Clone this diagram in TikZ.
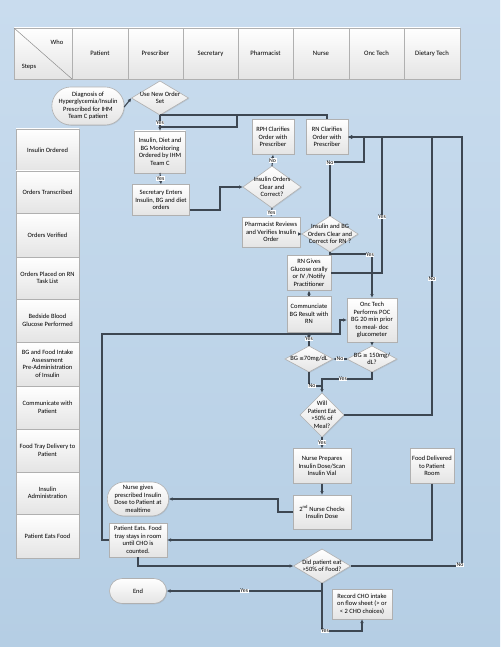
\documentclass[tikz,border=0pt]{standalone}
\usepackage{fontspec}
\setmainfont{Carlito}
\newfontfamily\symf{DejaVu Sans}
\usetikzlibrary{shapes.geometric,shapes.misc,arrows.meta,shadows,calc}
\definecolor{bgA}{HTML}{C9DCEE}
\definecolor{bgB}{HTML}{B5CEE4}
\definecolor{ln}{HTML}{3D4752}
\definecolor{bd}{HTML}{B0B0B0}
\definecolor{fl}{HTML}{E4E4E4}
\tikzset{
 txt/.style={font=\fontsize{6.5}{7.5}\selectfont, align=center},
 base/.style={draw=bd, line width=0.6pt, top color=white, bottom color=fl, txt, inner sep=0.5pt, outer sep=0pt,
   drop shadow={shadow xshift=0.8pt, shadow yshift=-0.8pt, opacity=0.22}},
 proc/.style={base, rectangle},
 dec/.style={base, diamond, inner sep=0pt},
 term/.style={base, rounded rectangle},
 stepbox/.style={base, rectangle, minimum width=63pt},
 hdr/.style={draw=bd, line width=0.6pt, top color=white, bottom color=fl, font=\fontsize{6.7}{7.5}\selectfont, inner sep=0pt, minimum height=51pt, outer sep=0pt},
 dtext/.style={txt, inner sep=0pt},
 conn/.style={draw=ln, line width=1.1pt},
 arr/.style={conn, -{Latex[length=4pt,width=3.6pt]}},
 lab/.style={fill=white, font=\fontsize{5.8}{6.2}\selectfont, inner sep=0.6pt, text=black},
}
\begin{document}
\begin{tikzpicture}[x=1pt,y=-1pt]
\useasboundingbox (0,0) rectangle (500,647);
\shade[top color=bgA, bottom color=bgB] (0,0) rectangle (500,647);

% header
\node[hdr, minimum width=58pt] (h0) at (43,53.5) {};
\draw[bd!80!black, line width=0.5pt] (h0.north west) -- (h0.south east);
\node[txt] (who) at (57,42) {Who};
\node[txt] (steps) at (29,67) {Steps};
\node[hdr, minimum width=56pt] (h1) at (100,53.5) {Patient};
\node[hdr, minimum width=55pt] (h2) at (155.5,53.5) {Prescriber};
\node[hdr, minimum width=55pt] (h3) at (210.5,53.5) {Secretary};
\node[hdr, minimum width=55pt] (h4) at (265.5,53.5) {Pharmacist};
\node[hdr, minimum width=56pt] (h5) at (321,53.5) {Nurse};
\node[hdr, minimum width=55pt] (h6) at (376.5,53.5) {Onc Tech};
\node[hdr, minimum width=56pt] (h7) at (432,53.5) {Dietary Tech};

% steps column
\node[stepbox, minimum height=42pt] (s1) at (47.5,150) {Insulin Ordered};
\node[stepbox, minimum height=42pt] (s2) at (47.5,192) {Orders Transcribed};
\node[stepbox, minimum height=44pt] (s3) at (47.5,235) {Orders Verified};
\node[stepbox, minimum height=42pt] (s4) at (47.5,278) {Orders Placed on RN\\Task List};
\node[stepbox, minimum height=43pt] (s5) at (47.5,320.5) {Bedside Blood\\Glucose Performed};
\node[stepbox, minimum height=44pt] (s6) at (47.5,364) {BG and Food Intake\\Assessment\\Pre-Administration\\of Insulin};
\node[stepbox, minimum height=43pt] (s7) at (47.5,407.5) {Communicate with\\Patient};
\node[stepbox, minimum height=43pt] (s8) at (47.5,450.5) {Food Tray Delivery to\\Patient};
\node[stepbox, minimum height=42pt] (s9) at (47.5,493) {Insulin\\Administration};
\node[stepbox, minimum height=44pt] (s10) at (47.5,536) {Patient Eats Food};

% flow nodes
\node[term, minimum width=65pt, minimum height=38pt] (start) at (88,106) {Diagnosis of\\Hyperglycemia/Insulin\\Prescribed for IHM\\Team C patient};
\node[dec, minimum width=57pt, minimum height=34pt, label={[dtext]center:{Use New Order\\Set}}] (d1) at (160,98) {};
\node[proc, minimum width=51pt, minimum height=42pt] (b1) at (160,152) {Insulin, Diet and\\BG Monitoring\\Ordered by IHM\\Team C};
\node[proc, minimum width=57pt, minimum height=31pt] (b2) at (161,200) {Secretary Enters\\Insulin, BG and diet\\orders};
\node[dec, minimum width=58pt, minimum height=42pt, label={[dtext]center:{Insulin Orders\\Clear and\\Correct?}}] (d2) at (272,187) {};
\node[proc, minimum width=42pt, minimum height=35pt] (rph) at (273,137) {RPH Clarifies\\Order with\\Prescriber};
\node[proc, minimum width=42pt, minimum height=35pt] (rn) at (327,137) {RN Clarifies\\Order with\\Prescriber};
\node[proc, minimum width=58pt, minimum height=30pt] (pharm) at (271,232) {Pharmacist Reviews\\and Verifies Insulin\\Order};
\node[dec, minimum width=56pt, minimum height=36pt, label={[dtext]center:{Insulin and BG\\Orders Clear and\\Correct for RN ?}}] (d3) at (330,234) {};
\node[proc, minimum width=44pt, minimum height=35pt] (rng) at (309,273) {RN Gives\\Glucose orally\\or IV /Notify\\Practitioner};
\node[proc, minimum width=44pt, minimum height=36pt] (comm) at (309,314) {Communciate\\BG Result with\\RN};
\node[proc, minimum width=50pt, minimum height=44pt] (onc) at (372,320) {Onc Tech\\Performs POC\\BG 20 min prior\\to meal- doc\\glucometer};
\node[dec, minimum width=48pt, minimum height=26pt, label={[dtext]center:{BG {\symf\fontsize{5.5}{6}\selectfont≤}70mg/dL}}] (d4) at (309,359) {};
\node[dec, minimum width=50pt, minimum height=26pt, label={[dtext]center:{BG {\symf\fontsize{5.5}{6}\selectfont≥} 150mg/\\dL?}}] (d5) at (372,359) {};
\node[dec, minimum width=44pt, minimum height=44pt, label={[dtext]center:{Will\\Patient Eat\\>50\% of\\Meal?}}] (d6) at (322,415) {};
\node[proc, minimum width=58pt, minimum height=35pt] (np) at (322,466) {Nurse Prepares\\Insulin Dose/Scan\\Insulin Vial};
\node[proc, minimum width=58pt, minimum height=34pt] (n2) at (322,512) {2\textsuperscript{nd} Nurse Checks\\Insulin Dose};
\node[term, minimum width=58pt, minimum height=34pt] (ng) at (138,499) {Nurse gives\\prescribed Insulin\\Dose to Patient at\\mealtime};
\node[proc, minimum width=58pt, minimum height=34pt] (pe) at (138,540) {Patient Eats. Food\\tray stays in room\\until CHO is\\counted.};
\node[proc, minimum width=44pt, minimum height=35pt] (fd) at (432,466) {Food Delivered\\to Patient\\Room};
\node[dec, minimum width=57pt, minimum height=34pt, label={[dtext]center:{Did patient eat\\>50\% of Food?}}] (d7) at (322,566) {};
\node[term, minimum width=58pt, minimum height=25pt] (end) at (138,591) {End};
\node[proc, minimum width=60pt, minimum height=30pt] (rec) at (362,604) {Record CHO intake\\on flow sheet (> or\\< 2 CHO choices)};

% coordinates
\coordinate (j1) at (237,115);
\coordinate (j2) at (237,127);
\coordinate (j3) at (160,127);
\coordinate (j4) at (220,210);
\coordinate (j5) at (364,162);
\coordinate (j6) at (382,150);
\coordinate (j7) at (432,300);
\coordinate (j8) at (462,300);
\coordinate (j9) at (322,379);
\coordinate (j10) at (322,386);
\coordinate (j11) at (278,505);
\coordinate (j13) at (102,334);
\coordinate (j14) at (340,334);
\coordinate (j15) at (322,591);
\coordinate (j16) at (322,631);

% connectors
\draw[arr] ([yshift=-9pt]d1.west -| start.east) -- ([yshift=-0pt]d1.west);
\draw[arr] (d1.south) -- node[lab]{Yes} (b1.north);
\draw[conn] (rn.north) |- (j1) -- (d1.south);
\draw[conn] (j1) -- (j2) -- (j3);
\draw[arr] (b1.south) -- node[lab]{Yes} (b2.north);
\draw[arr] (b2.east |- j4) -- (j4) |- (d2.west);
\draw[arr] (d2.north) -- node[lab]{No} (rph.south);
\draw[arr] (d2.south) -- node[lab]{Yes} (pharm.north);
\draw[arr] (pharm.east |- d3.west) -- (d3.west);
\draw[arr] (d3.north) |- (j5) |- (rn.east);
\node[lab] (lno1) at (330,163) {No};
\draw[arr] (rng.east) -| (j6) |- (rn.east);
\node[lab] (lyes1) at (382,217) {Yes};
\draw[arr] (d6.east) -| (j7) |- (rn.east);
\node[lab] (lno2) at (432,279) {No};
\draw[arr] (d7.east) -| (j8) |- (rn.east);
\node[lab] (lno3) at (460,565) {No};
\draw[arr] (d3.south) -- ++(0,2) -| (onc.north);
\node[lab] (lyes2) at (370,255) {Yes};
\draw[arr] (comm.north) -- (rng.south);
\draw[arr] (d4.north) -- node[lab]{Yes} (comm.south);
\draw[arr] (onc.south) -- (d5.north);
\draw[arr] (d5.west) -- node[lab]{No} (d4.east);
\draw[arr] (d5.south) |- (j9) -- (d6.north);
\node[lab] (lyes3) at (343,379) {Yes};
\draw[conn] (d4.south) |- (j10);
\node[lab] (lno4) at (312,386) {No};
\draw[arr] (d6.south) -- node[lab]{Yes} (np.north);
\draw[arr] (np.south) -- (n2.north);
\draw[arr] (n2.west) -| (j11) |- (ng.east);
\draw[arr] (fd.south) |- (pe.east);
\draw[arr] (pe.west) -| (j13) -- (j14) |- (onc.west);
\draw[arr] (pe.south) |- (d7.west);
\draw[arr] (d7.south) -- (j15) -- node[lab]{Yes} (end.east);
\draw[arr] (j15) -- (j16) -| (rec.south);
\node[lab] (lyes4) at (325,631) {Yes};
\end{tikzpicture}
\end{document}
